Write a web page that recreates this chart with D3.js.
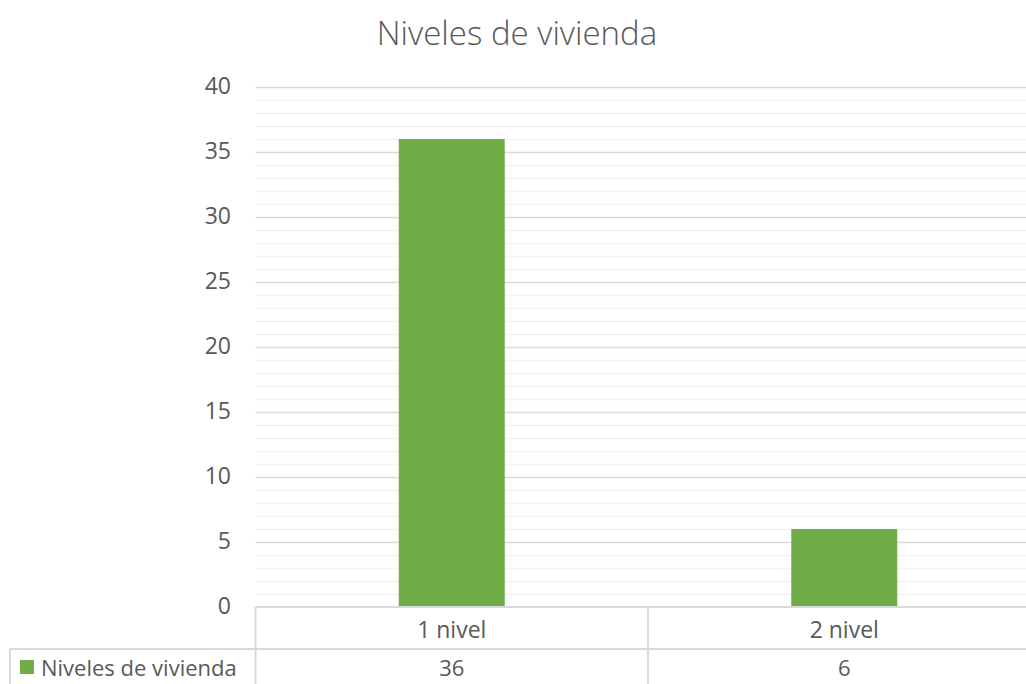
<!DOCTYPE html>
<html><head><meta charset="utf-8">
<script src="https://cdn.jsdelivr.net/npm/d3@7"></script>
<style>
html,body{margin:0;padding:0;background:#fff;}
svg{display:block;}
text{font-family:"Open Sans","Noto Sans",sans-serif;fill:#595959;}
</style></head>
<body>
<svg id="chart" width="1026" height="684"></svg>
<script>
const title = "Niveles de vivienda";
const seriesName = "Niveles de vivienda";
const categories = ["1 nivel", "2 nivel"];
const values = [36, 6];
const majorTicks = [0, 5, 10, 15, 20, 25, 30, 35, 40];
const minorTicks = d3.range(0, 41, 1);

const svg = d3.select("#chart");
const W = 1026, H = 684;
const plot = {left: 255.5, right: 1040.5, top: 87, bottom: 607};
const rowH = 42;

const x = d3.scaleBand().domain(categories).range([plot.left, plot.right]).paddingInner(0).paddingOuter(0);
const y = d3.scaleLinear().domain([0, 40]).range([plot.bottom, plot.top]);

// title
svg.append("text").attr("x", 517).attr("y", 45).attr("text-anchor", "middle")
  .style("font-size", "33px").style("font-weight", 300).text(title);

// minor grid
svg.append("g").selectAll("line").data(minorTicks.filter(d => d % 5 !== 0)).join("line")
  .attr("x1", plot.left).attr("x2", W).attr("y1", d => Math.round(y(d)) + 0.5).attr("y2", d => Math.round(y(d)) + 0.5)
  .attr("stroke", "#f2f2f2").attr("stroke-width", 1.5);
// major grid
svg.append("g").selectAll("line").data(majorTicks.filter(d => d !== 0)).join("line")
  .attr("x1", plot.left).attr("x2", W).attr("y1", d => Math.round(y(d)) + 0.5).attr("y2", d => Math.round(y(d)) + 0.5)
  .attr("stroke", "#d9d9d9").attr("stroke-width", 1.5);

// y axis labels
const yAxis = d3.axisLeft(y).tickValues(majorTicks).tickSize(0).tickPadding(0);
const gy = svg.append("g").attr("transform", `translate(231,0)`).call(yAxis);
gy.select(".domain").remove();
gy.selectAll("text").style("font-size", "23px").style("font-family", "'Open Sans','Noto Sans',sans-serif").attr("fill", "#595959").attr("dy", "0.3em");

// bars
const barW = x.bandwidth() * 0.27;
svg.append("g").selectAll("rect").data(categories).join("rect")
  .attr("x", d => x(d) + x.bandwidth() / 2 - barW / 2)
  .attr("width", barW)
  .attr("y", (d, i) => y(values[i]))
  .attr("height", (d, i) => y(0) - y(values[i]))
  .attr("fill", "#70ad47");

// data table lines
const tbl = svg.append("g").attr("stroke", "#d9d9d9").attr("stroke-width", 2).attr("fill", "none");
tbl.append("line").attr("x1", plot.left).attr("x2", W).attr("y1", plot.bottom).attr("y2", plot.bottom);
tbl.append("line").attr("x1", 10).attr("x2", W).attr("y1", plot.bottom + rowH).attr("y2", plot.bottom + rowH);
tbl.append("line").attr("x1", 10).attr("x2", 10).attr("y1", plot.bottom + rowH).attr("y2", H);
tbl.selectAll(".v").data(categories).join("line").attr("class", "v")
  .attr("x1", d => x(d)).attr("x2", d => x(d)).attr("y1", plot.bottom).attr("y2", H);

// category labels
svg.append("g").selectAll("text").data(categories).join("text")
  .attr("x", d => x(d) + x.bandwidth() / 2).attr("y", plot.bottom + 31)
  .attr("text-anchor", "middle").style("font-size", "23px").text(d => d);
// values
svg.append("g").selectAll("text").data(values).join("text")
  .attr("x", (d, i) => x(categories[i]) + x.bandwidth() / 2).attr("y", plot.bottom + rowH + 27)
  .attr("text-anchor", "middle").style("font-size", "22px").text(d => d);

// legend key + series name
svg.append("rect").attr("x", 20).attr("y", 660).attr("width", 14).attr("height", 14).attr("fill", "#70ad47");
svg.append("text").attr("x", 41).attr("y", 676).style("font-size", "22px").text(seriesName);
</script>
</body></html>
